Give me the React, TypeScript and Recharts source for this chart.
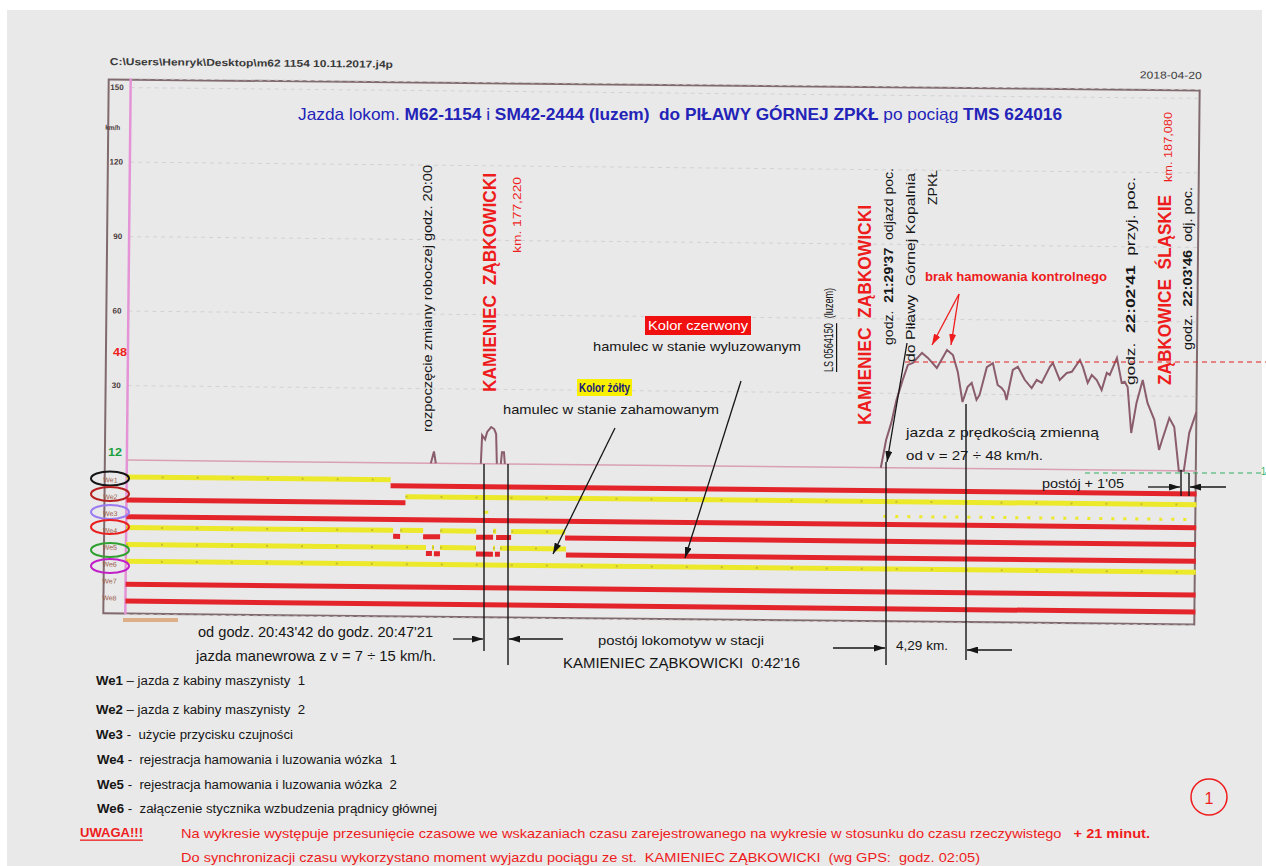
import { ComposedChart, Line, XAxis, YAxis, CartesianGrid, ReferenceLine } from 'recharts';

const FONT = "'Liberation Sans Narrow', 'Liberation Sans', Arial, sans-serif";
const INK = '#161616';
const RED = '#ee1c1c';
const SIG_RED = '#e3242b';
const SIG_YELLOW = '#ece82a';

// record index along the tape (0 = left edge of the plot) and speed in km/h
const probe = [
  304, 307, 309, 330, 354, 355, 358, 360, 364, 367, 369, 370, 372, 374, 375, 377, 378, 400,
  754, 759, 764, 769, 775, 780, 785, 794, 800, 809, 819, 825, 830, 835, 840, 844, 849, 852,
  859, 865, 870, 874, 877, 879, 885, 890, 897, 904, 909, 914, 922, 925, 932, 939, 944, 952,
  955, 960, 964, 969, 974, 979, 982, 989, 994, 997, 1000, 1004, 1009, 1015, 1020, 1027, 1032,
  1035, 1042, 1047, 1052, 1057, 1062, 1069,
];
const speedKmh = [
  0, 4.7, 0, null, 0, 11.5, 9.8, 12.8, 14.8, 14, 12, 0, null, 0, 4.7, 4.7, 0, null,
  0, 11.2, 18.1, 27.4, 35.4, 41.5, 42.3, 46.4, 44.4, 40.4, 47.7, 45.7, 38.9, 26.8, 32.9, 34.5, 27.7, 29.7,
  40.9, 42.6, 33.8, 32.6, 31.0, 27.8, 39.9, 41.2, 36.0, 32.7, 36.0, 34.8, 41.3, 42.9, 36.1, 38.9, 39.4, 44.2,
  41.4, 35.0, 38.2, 36.2, 32.2, 39.1, 38.3, 45.2, 35.1, 35.6, 33.5, 15.0, 27.1, 36.4, 27.2, 20.4, 8.3,
  12.3, 21.2, 17.6, 0, 0, 15.2, 23.7,
];
const speedTicks = [30, 60, 90, 120, 150];

// binary inputs We1..We8: [from, to, state]  Y = żółty (zahamowany), R = czerwony (wyluzowany)
const signalNames = ['We1', 'We2', 'We3', 'We4', 'We5', 'We6', 'We7', 'We8'];
const we1 = [[0, 264, 'Y'], [264, 1070, 'R']];
const we2 = [[0, 279, 'R'], [279, 1070, 'Y']];
const we3 = [[0, 1070, 'R']];
const we4 = [
  [0, 267, 'Y'], [267, 274, 'R'], [274, 297, 'Y'], [297, 314, 'R'], [314, 350, 'Y'],
  [350, 367, 'R'], [367, 370, 'Y'], [370, 385, 'R'], [385, 439, 'Y'], [439, 1070, 'R'],
];
const we5 = [
  [0, 300, 'Y'], [300, 306, 'R'], [306, 308, 'Y'], [308, 314, 'R'], [314, 350, 'Y'],
  [350, 367, 'R'], [367, 369, 'Y'], [369, 374, 'R'], [374, 440, 'Y'], [440, 1070, 'R'],
];
const we6 = [[0, 1070, 'Y']];
const we7 = [[0, 1070, 'R']];
const we8 = [[0, 1070, 'R']];
const we3Pulses = [[357, 362], [757, 1068]];

const signals = [we1, we2, we3, we4, we5, we6, we7, we8];
const speedData = probe.map((p, i) => ({ p, v: speedKmh[i] }));

function HText({ x1, x2, y, size = 13, color = INK, weight = 400, children, deco }: any) {
  return (
    <text x={x1} y={y} textLength={x2 - x1} lengthAdjust="spacingAndGlyphs" dominantBaseline="central"
      fontSize={size} fill={color} fontWeight={weight} fontFamily={FONT} textDecoration={deco} style={{ whiteSpace: 'pre' }}>
      {children}
    </text>
  );
}

function VText({ x, y1, y2, size = 12, color = INK, weight = 400, children }: any) {
  return (
    <text transform={`translate(${x} ${y2}) rotate(-90)`} textLength={y2 - y1} lengthAdjust="spacingAndGlyphs"
      dominantBaseline="central" fontSize={size} fill={color} fontWeight={weight} fontFamily={FONT} style={{ whiteSpace: 'pre' }}>
      {children}
    </text>
  );
}

function Arrow({ x1, y1, x2, y2, color = INK, w = 1.3 }: any) {
  return <line x1={x1} y1={y1} x2={x2} y2={y2} stroke={color} strokeWidth={w} markerEnd={color === RED ? 'url(#ahRed)' : 'url(#ah)'} />;
}

function Ln({ x1, y1, x2, y2, w = 1.4 }: any) {
  return <line x1={x1} y1={y1} x2={x2} y2={y2} stroke={INK} strokeWidth={w} />;
}

function SpeedTick(p: any) {
  return (
    <text x={121} y={p.y} textAnchor="end" dominantBaseline="central" fontSize={8} fontWeight={700}
      fill="#4a3a3a" fontFamily={FONT}>
      {p.payload.value}
    </text>
  );
}

export default function App() {
  return (
    <div style={{ position: 'absolute', left: 0, top: 0, width: 1266, height: 866, background: '#fff', overflow: 'hidden' }}>
      <div style={{ position: 'absolute', left: 7, top: 10, width: 1255, height: 856, background: '#e9e9e9' }} />

      {/* printout (slightly rotated on the scan) */}
      <div style={{ position: 'absolute', left: 0, top: 0, width: 1266, height: 866, transform: 'rotate(0.58deg)', transformOrigin: '662px 350px' }}>
        <div style={{ position: 'absolute', left: 105, top: 84, width: 1093, height: 536, border: '2px solid #806a6e', boxSizing: 'border-box' }} />
        <div style={{ position: 'absolute', left: 0, top: 0 }}>
          <ComposedChart width={1266} height={866} data={speedData} margin={{ top: 84, right: 68, bottom: 246, left: 0 }}>
            <CartesianGrid yAxisId="v" vertical={false} stroke="#d2d2d2" strokeDasharray="4 4" />
            <XAxis dataKey="p" type="number" domain={[0, 1070]} hide allowDataOverflow />
            <YAxis yAxisId="v" width={128} domain={[-62.21, 153.62]} ticks={speedTicks} interval={0}
              axisLine={false} tickLine={false} allowDataOverflow tick={<SpeedTick />} />
            <YAxis yAxisId="s" hide reversed domain={[-22.81, 8.98]} allowDataOverflow />
            <ReferenceLine yAxisId="v" x={0} stroke="#e494d6" strokeWidth={2.5} />
            <ReferenceLine yAxisId="v" y={0} stroke="#d9a0b2" strokeWidth={1.5} />
            {signals.map((segs, i) =>
              segs.map(([a, b, st]: any, j) => (
                <ReferenceLine key={`s${i}-${j}`} yAxisId="s" ifOverflow="visible"
                  segment={[{ x: a, y: i + 1 + (st === 'R' ? 0.18 : -0.18) }, { x: b, y: i + 1 + (st === 'R' ? 0.18 : -0.18) }]}
                  stroke={st === 'R' ? SIG_RED : SIG_YELLOW} strokeWidth={5} />
              ))
            )}
            {signals.map((segs, i) =>
              segs.filter((s: any) => s[2] === 'Y').map(([a, b]: any, j) => (
                <ReferenceLine key={`d${i}-${j}`} yAxisId="s" ifOverflow="visible"
                  segment={[{ x: a, y: i + 1 - 0.18 }, { x: b, y: i + 1 - 0.18 }]}
                  stroke="#a8a040" strokeOpacity={0.6} strokeWidth={2} strokeDasharray="2 33" />
              ))
            )}
            {we3Pulses.map(([a, b], j) => (
              <ReferenceLine key={`p${j}`} yAxisId="s" ifOverflow="visible"
                segment={[{ x: a, y: 3 - 0.3 }, { x: b, y: 3 - 0.3 }]}
                stroke={SIG_YELLOW} strokeWidth={3} strokeDasharray={j === 0 ? undefined : '3 9'} />
            ))}
            {signalNames.map((n, i) => (
              <ReferenceLine key={n} yAxisId="s" y={i + 1} stroke="none"
                label={{ value: n, position: 'left', offset: 9, fontSize: 7, fill: '#9a5a48', fontFamily: FONT }} />
            ))}
            <Line yAxisId="v" dataKey="v" stroke="#8a5c6c" strokeWidth={2} dot={false} connectNulls={false}
              type="linear" isAnimationActive={false} />
          </ComposedChart>
        </div>
        <svg width={1266} height={866} style={{ position: 'absolute', left: 0, top: 0 }}>
          <HText x1={107} x2={390} y={67} size={10} weight={700} color="#3a3a3a">C:\Users\Henryk\Desktop\m62 1154 10.11.2017.j4p</HText>
          <HText x1={1137} x2={1199} y={70} size={10} color="#3a3a3a">2018-04-20</HText>
          <HText x1={103} x2={118} y={133} size={7} weight={700} color="#4a3a3a">km/h</HText>
        </svg>
      </div>

      {/* author's annotations */}
      <svg width={1266} height={866} style={{ position: 'absolute', left: 0, top: 0 }}>
        <defs>
          <marker id="ah" markerUnits="userSpaceOnUse" markerWidth={11} markerHeight={7} refX={11} refY={3.5} orient="auto">
            <path d="M0,0 L11,3.5 L0,7 z" fill={INK} />
          </marker>
          <marker id="ahRed" markerUnits="userSpaceOnUse" markerWidth={11} markerHeight={7} refX={11} refY={3.5} orient="auto">
            <path d="M0,0 L11,3.5 L0,7 z" fill={RED} />
          </marker>
        </defs>

        <text x={298} y={114} textLength={764} lengthAdjust="spacingAndGlyphs" dominantBaseline="central"
          fontSize={17} fill="#2323b8" fontFamily={FONT} style={{ whiteSpace: 'pre' }}>
          <tspan>Jazda lokom. </tspan>
          <tspan fontWeight={700}>M62-1154</tspan>
          <tspan> i </tspan>
          <tspan fontWeight={700}>SM42-2444 (luzem)  do PIŁAWY GÓRNEJ ZPKŁ</tspan>
          <tspan> po pociąg </tspan>
          <tspan fontWeight={700}>TMS 624016</tspan>
        </text>

        <HText x1={113} x2={127} y={352} size={11} weight={700} color={RED}>48</HText>
        <HText x1={108} x2={122} y={452} size={11} weight={700} color="#1aa040">12</HText>
        <rect x={123} y={618} width={55} height={4} fill="#d8a070" opacity={0.8} />

        {[
          [478.5, INK], [494, '#b82020'], [512, '#9b7cf0'], [527, '#e82020'], [550, '#30a030'], [566, '#c020c8'],
        ].map(([cy, c]: any) => (
          <ellipse key={cy} cx={110} cy={cy} rx={19} ry={7} fill="none" stroke={c} strokeWidth={2} />
        ))}

        <VText x={428} y1={165} y2={432}>rozpoczęcie zmiany roboczej godz. 20:00</VText>
        <VText x={489} y1={173} y2={392} size={19} weight={700} color={RED}>KAMIENIEC  ZĄBKOWICKI</VText>
        <VText x={517} y1={177} y2={253} size={11} color={RED}>km. 177,220</VText>

        <rect x={645} y={316} width={106} height={19} fill="#f01010" />
        <HText x1={648} x2={748} y={325.5} size={12} color="#fff">Kolor czerwony</HText>
        <HText x1={593} x2={801} y={346}>hamulec w stanie wyluzowanym</HText>
        <rect x={577} y={379} width={55} height={17} fill="#f8f000" />
        <HText x1={579} x2={630} y={388} size={12} weight={700} color="#1a1a7a">Kolor żółty</HText>
        <HText x1={503} x2={719} y={409}>hamulec w stanie zahamowanym</HText>
        <Arrow x1={615} y1={428} x2={553} y2={554} />
        <Arrow x1={741} y1={381} x2={685} y2={558} />

        <text transform="translate(829 372) rotate(-90)" textLength={84} lengthAdjust="spacingAndGlyphs"
          dominantBaseline="central" fontSize={12} fill={INK} fontFamily={FONT} style={{ whiteSpace: 'pre' }}>
          <tspan textDecoration="underline">LS 0564150</tspan>
          <tspan>  (luzem)</tspan>
        </text>
        <VText x={864} y1={205} y2={425} size={19} weight={700} color={RED}>KAMIENIEC  ZĄBKOWICKI</VText>
        <text transform="translate(889 345) rotate(-90)" textLength={177} lengthAdjust="spacingAndGlyphs"
          dominantBaseline="central" fontSize={12} fill={INK} fontFamily={FONT} style={{ whiteSpace: 'pre' }}>
          <tspan>godz.  </tspan><tspan fontWeight={700}>21:29'37</tspan><tspan>  odjazd poc.</tspan>
        </text>
        <VText x={911} y1={173} y2={362}>do Piławy  Górnej Kopalnia</VText>
        <VText x={933} y1={170} y2={205}>ZPKŁ</VText>

        <HText x1={925} x2={1107} y={277} size={12} weight={700} color={RED}>brak hamowania kontrolnego</HText>
        <Arrow x1={959} y1={294} x2={932} y2={345} color={RED} />
        <Arrow x1={959} y1={294} x2={951} y2={345} color={RED} />

        <text transform="translate(1131 385) rotate(-90)" textLength={208} lengthAdjust="spacingAndGlyphs"
          dominantBaseline="central" fontSize={12} fill={INK} fontFamily={FONT} style={{ whiteSpace: 'pre' }}>
          <tspan>godz.  </tspan><tspan fontWeight={700}>22:02'41</tspan><tspan>  przyj. poc.</tspan>
        </text>
        <VText x={1164} y1={195} y2={385} size={19} weight={700} color={RED}>ZĄBKOWICE  ŚLĄSKIE</VText>
        <VText x={1168} y1={112} y2={182} size={11} color={RED}>km. 187,080</VText>
        <text transform="translate(1188 350) rotate(-90)" textLength={163} lengthAdjust="spacingAndGlyphs"
          dominantBaseline="central" fontSize={12} fill={INK} fontFamily={FONT} style={{ whiteSpace: 'pre' }}>
          <tspan>godz.  </tspan><tspan fontWeight={700}>22:03'46</tspan><tspan>  odj. poc.</tspan>
        </text>

        <line x1={905} y1={362} x2={1266} y2={362} stroke="#e02020" strokeWidth={1} strokeDasharray="5 4" />
        <line x1={1085} y1={473} x2={1266} y2={473} stroke="#30b060" strokeWidth={1} strokeDasharray="5 4" />
        <HText x1={1261} x2={1266} y={471} size={10} color="#30b060">1</HText>

        <HText x1={906} x2={1099} y={432}>jazda z prędkością zmienną</HText>
        <HText x1={906} x2={1043} y={455}>od v = 27 ÷ 48 km/h.</HText>
        <HText x1={1042} x2={1124} y={483}>postój + 1'05</HText>
        <Ln x1={1181} y1={470} x2={1181} y2={496} />
        <Ln x1={1189} y1={473} x2={1189} y2={496} />
        <Arrow x1={1148} y1={487} x2={1180} y2={487} />
        <Arrow x1={1226} y1={487} x2={1190} y2={487} />

        <Ln x1={484} y1={464} x2={484} y2={651} />
        <Ln x1={508} y1={464} x2={508} y2={665} />
        <Arrow x1={907} y1={343} x2={887} y2={462} />
        <Ln x1={886} y1={462} x2={886} y2={665} />
        <Ln x1={966} y1={404} x2={966} y2={660} />

        <HText x1={198} x2={433} y={632} size={14}>od godz. 20:43'42 do godz. 20:47'21</HText>
        <HText x1={196} x2={436} y={656} size={14}>jazda manewrowa z v = 7 ÷ 15 km/h.</HText>
        <Arrow x1={453} y1={639} x2={483} y2={639} />
        <Arrow x1={563} y1={639} x2={509} y2={639} />
        <HText x1={598} x2={764} y={640}>postój lokomotyw w stacji</HText>
        <HText x1={563} x2={800} y={663} size={14}>KAMIENIEC ZĄBKOWICKI  0:42'16</HText>
        <Arrow x1={833} y1={648} x2={885} y2={648} />
        <HText x1={896} x2={948} y={645}>4,29 km.</HText>
        <Arrow x1={1012} y1={650} x2={967} y2={650} />

        <text x={96} y={681} textLength={209} lengthAdjust="spacingAndGlyphs" dominantBaseline="central" fontSize={12} fill={INK} fontFamily={FONT} style={{ whiteSpace: 'pre' }}>
          <tspan fontWeight={700}>We1</tspan><tspan> – jazda z kabiny maszynisty  1</tspan>
        </text>
        <text x={96} y={710} textLength={209} lengthAdjust="spacingAndGlyphs" dominantBaseline="central" fontSize={12} fill={INK} fontFamily={FONT} style={{ whiteSpace: 'pre' }}>
          <tspan fontWeight={700}>We2</tspan><tspan> – jazda z kabiny maszynisty  2</tspan>
        </text>
        <text x={96} y={735} textLength={197} lengthAdjust="spacingAndGlyphs" dominantBaseline="central" fontSize={12} fill={INK} fontFamily={FONT} style={{ whiteSpace: 'pre' }}>
          <tspan fontWeight={700}>We3</tspan><tspan> -  użycie przycisku czujności</tspan>
        </text>
        <text x={97} y={760} textLength={300} lengthAdjust="spacingAndGlyphs" dominantBaseline="central" fontSize={12} fill={INK} fontFamily={FONT} style={{ whiteSpace: 'pre' }}>
          <tspan fontWeight={700}>We4</tspan><tspan> -  rejestracja hamowania i luzowania wózka  1</tspan>
        </text>
        <text x={97} y={785} textLength={300} lengthAdjust="spacingAndGlyphs" dominantBaseline="central" fontSize={12} fill={INK} fontFamily={FONT} style={{ whiteSpace: 'pre' }}>
          <tspan fontWeight={700}>We5</tspan><tspan> -  rejestracja hamowania i luzowania wózka  2</tspan>
        </text>
        <text x={97} y={809} textLength={340} lengthAdjust="spacingAndGlyphs" dominantBaseline="central" fontSize={12} fill={INK} fontFamily={FONT} style={{ whiteSpace: 'pre' }}>
          <tspan fontWeight={700}>We6</tspan><tspan> -  załączenie stycznika wzbudzenia prądnicy głównej</tspan>
        </text>

        <circle cx={1209} cy={797} r={18} fill="none" stroke={RED} strokeWidth={1.5} />
        <text x={1209} y={798} textAnchor="middle" dominantBaseline="central" fontSize={16} fill={RED} fontFamily={FONT}>1</text>

        <HText x1={80} x2={143} y={832} size={13} weight={700} color={RED} deco="underline">UWAGA!!!</HText>
        <text x={181} y={833} textLength={969} lengthAdjust="spacingAndGlyphs" dominantBaseline="central" fontSize={13} fill={RED} fontFamily={FONT} style={{ whiteSpace: 'pre' }}>
          <tspan>Na wykresie występuje przesunięcie czasowe we wskazaniach czasu zarejestrowanego na wykresie w stosunku do czasu rzeczywistego   </tspan>
          <tspan fontWeight={700}>+ 21 minut.</tspan>
        </text>
        <HText x1={181} x2={980} y={857} color={RED}>Do synchronizacji czasu wykorzystano moment wyjazdu pociągu ze st.  KAMIENIEC ZĄBKOWICKI  (wg GPS:  godz. 02:05)</HText>
      </svg>
    </div>
  );
}
